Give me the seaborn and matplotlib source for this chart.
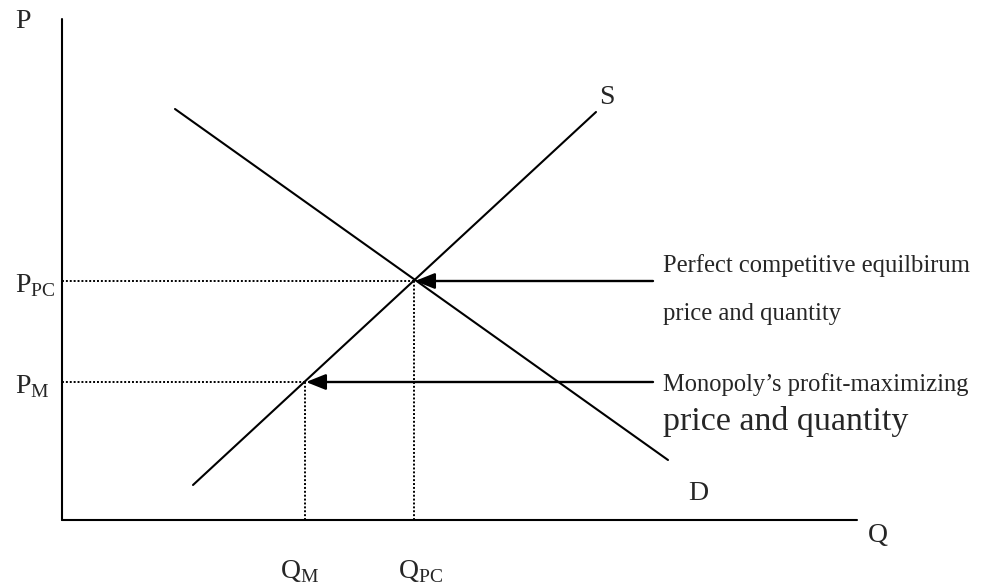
import matplotlib
matplotlib.use('Agg')
import matplotlib.pyplot as plt
import seaborn as sns
import pandas as pd

# quantities and prices (arbitrary units, origin at axis corner)
supply_q = [131, 534]
supply_p = [35, 408]
demand_q = [113, 606]
demand_p = [411, 60]
q_pc, p_pc = 352, 239
q_m, p_m = 243, 138
q_axis_max = 795
p_axis_max = 501
note_q = 591

sns.set_theme(style='white')
plt.rcParams['font.family'] = ['Liberation Serif', 'DejaVu Serif']
plt.rcParams['mathtext.fontset'] = 'custom'
plt.rcParams['mathtext.rm'] = 'Liberation Serif'

fig = plt.figure(figsize=(9.9, 5.88), dpi=100)
ax = fig.add_axes([0, 0, 1, 1])
ax.set_xlim(-62, 928)
ax.set_ylim(-68, 520)
ax.axis('off')

# axes of the diagram
ax.plot([0, 0], [0, p_axis_max], color='black', lw=1.5)
ax.plot([0, q_axis_max], [0, 0], color='black', lw=1.5)

curves = pd.DataFrame({
    'Q': supply_q + demand_q,
    'P': supply_p + demand_p,
    'curve': ['S', 'S', 'D', 'D'],
})
sns.lineplot(data=curves, x='Q', y='P', units='curve', estimator=None,
             color='black', lw=1.5, ax=ax, sort=False)

# dotted guides
dot = dict(color='black', lw=1.4, ls=(0, (1, 1)))
ax.plot([0, q_pc], [p_pc, p_pc], **dot)
ax.plot([q_pc, q_pc], [0, p_pc], **dot)
ax.plot([0, q_m], [p_m, p_m], **dot)
ax.plot([q_m, q_m], [0, p_m], **dot)

# arrows
arrow = dict(arrowstyle='-|>,head_length=1.0,head_width=0.4', color='black',
             lw=1.7, shrinkA=0, shrinkB=0)
ax.annotate('', xy=(q_pc + 1, p_pc), xytext=(note_q, p_pc), arrowprops=arrow)
ax.annotate('', xy=(q_m + 1, p_m), xytext=(note_q, p_m), arrowprops=arrow)

# labels
big = 20
ax.text(-39, 498, 'P', fontsize=big, ha='center', va='center')
ax.text(816, -15, 'Q', fontsize=big, ha='center', va='center')
ax.text(545, 423, 'S', fontsize=big, ha='center', va='center')
ax.text(636, 27, 'D', fontsize=big, ha='center', va='center')
ax.text(-47, 228, r'$\mathrm{P}_{\mathrm{PC}}$', fontsize=big, ha='left', va='baseline')
ax.text(-47, 127, r'$\mathrm{P}_{\mathrm{M}}$', fontsize=big, ha='left', va='baseline')
ax.text(218, -58, r'$\mathrm{Q}_{\mathrm{M}}$', fontsize=big, ha='left', va='baseline')
ax.text(336, -58, r'$\mathrm{Q}_{\mathrm{PC}}$', fontsize=big, ha='left', va='baseline')

ax.text(note_q + 10, 248, 'Perfect competitive equilbirum', fontsize=17.7, va='baseline')
ax.text(note_q + 10, 200, 'price and quantity', fontsize=17.7, va='baseline')
ax.text(note_q + 10, 129, 'Monopoly\u2019s profit-maximizing', fontsize=17.7, va='baseline')
ax.text(note_q + 10, 90, 'price and quantity', fontsize=24.5, va='baseline')

fig.savefig('out.png', dpi=100, facecolor='white')
